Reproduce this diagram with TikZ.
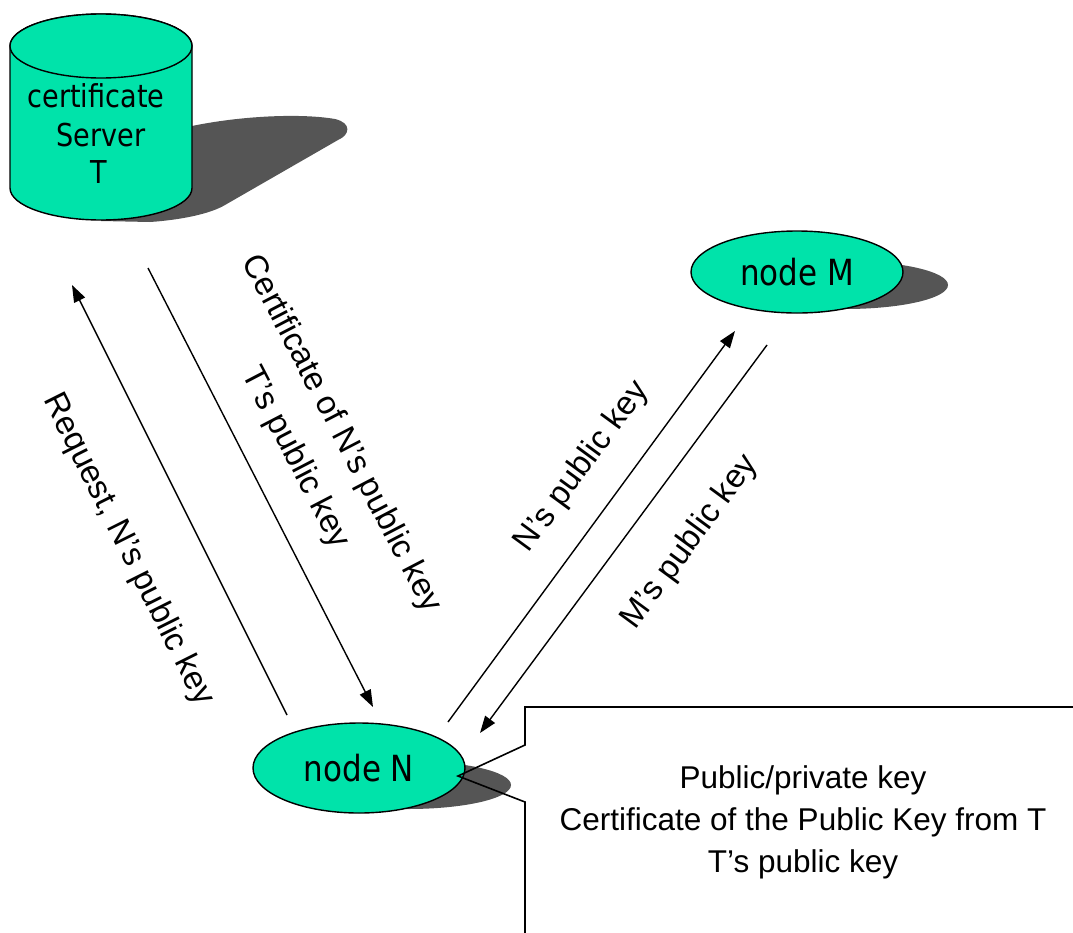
\documentclass[tikz,border=0pt]{standalone}
\usepackage{fontspec}
\setmainfont{Liberation Sans}
\newfontfamily\peerfont[FakeStretch=0.86]{DejaVu Sans}
\usetikzlibrary{shapes.geometric,arrows.meta}
\definecolor{mint}{HTML}{00E3AA}
\definecolor{shadowgray}{HTML}{555555}

\begin{document}
\begin{tikzpicture}[x=1pt,y=-1pt,
  peer/.style={ellipse, draw=black, line width=1.4pt, fill=mint, inner sep=0pt,
    minimum width=212pt, font=\peerfont\fontsize{36}{40}\selectfont},
  srvtext/.style={anchor=base, inner sep=0pt, font=\peerfont\fontsize{31.5}{38}\selectfont},
  msg/.style={line width=1.4pt, -{Triangle[length=17pt,width=12pt]}},
  lbl/.style={align=center, inner sep=0pt, font=\fontsize{33}{52}\selectfont},
  boxtext/.style={align=center, inner sep=0pt, font=\fontsize{31.5}{42}\selectfont},
  callout/.style={line width=1.6pt},
  dropshadow/.style={fill=shadowgray}]

\useasboundingbox (0,0) rectangle (1073,932);
\clip (0,0) rectangle (1073,932);

% drop shadows
\path[dropshadow] (101,200) -- (192,126) .. controls (240,116) and (300,113) .. (335,119)
  .. controls (352,123) and (350,135) .. (338,140) -- (225,205)
  .. controls (210,214) and (180,220) .. (150,222) -- (101,221) -- cycle;
\path[dropshadow] (408,785) ellipse [x radius=103pt, y radius=24pt];
\path[dropshadow] (845,285) ellipse [x radius=103pt, y radius=24pt];

% certificate server: cylinder
\draw[line width=1.4pt, fill=mint] (10,46) -- (10,188)
  arc[start angle=180, end angle=360, x radius=91pt, y radius=32pt]
  -- (192,46) arc[start angle=0, end angle=180, x radius=91pt, y radius=32pt] -- cycle;
\draw[line width=1.4pt, fill=mint] (101,46) ellipse [x radius=91pt, y radius=32pt];
\node[srvtext] (srv1) at (96,107) {certificate};
\node[srvtext] (srv2) at (101,146) {Server};
\node[srvtext] (srv3) at (99,183) {T};

% peers
\node[peer, minimum height=90pt] (nN) at (359,768) {node N};
\node[peer, minimum height=82pt] (nM) at (797,272) {node M};

% message end points
\coordinate (reqS) at (287,715);
\coordinate (reqE) at (72,285);
\coordinate (certS) at (148,268);
\coordinate (certE) at (373,707);
\coordinate (npkS) at (448,722);
\coordinate (npkE) at (735,331);
\coordinate (mpkS) at (767,345);
\coordinate (mpkE) at (480,733);

\draw[msg] (reqS) -- (reqE);
\draw[msg] (certS) -- (certE);
\draw[msg] (npkS) -- (npkE);
\draw[msg] (mpkS) -- (mpkE);

\node[lbl, rotate=-63.4] (lreq) at (128,550) {Request, N’s public key};
\node[lbl, rotate=-62.5] (lcert) at (318,446) {Certificate of N’s public key\\T’s public key};
\node[lbl, rotate=53.8] (lnpk) at (582,467) {N’s public key};
\node[lbl, rotate=53.7] (lmpk) at (690,542) {M’s public key};

% callout attached to node N
\coordinate (tip) at (458,776);
\draw[callout] (1080,707) -- (525,707) -- (525,745) -- (tip) -- (525,802) -- (525,940);
\node[boxtext] (keys) at (803,822) {Public/private key\\Certificate of the Public Key from T\\T’s public key};
\end{tikzpicture}
\end{document}
